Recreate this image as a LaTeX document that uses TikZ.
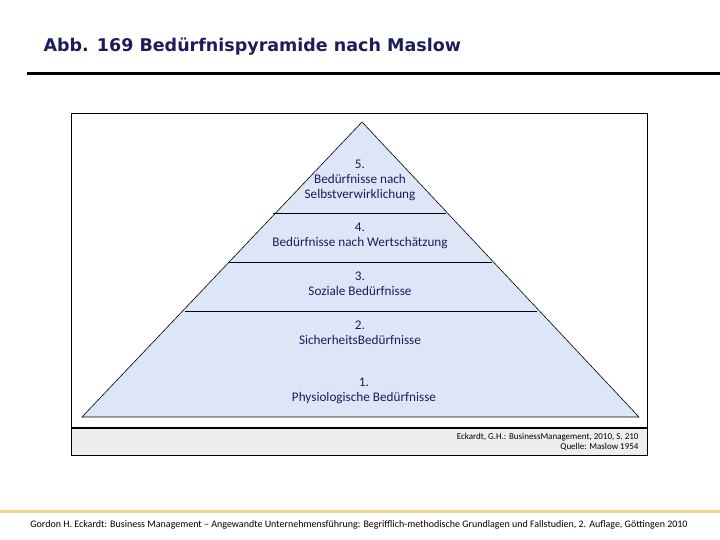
\documentclass[tikz,border=0pt]{standalone}
\usepackage{fontspec}
\setmainfont{Carlito}
\newfontfamily\titlefont{DejaVu Sans}
\begin{document}
\begin{tikzpicture}[x=1pt,y=-1pt,
  lbl/.style={align=center,text=navy,font=\fontsize{13.2}{15}\selectfont},
  divider/.style={draw=black,line width=0.8pt}]
\definecolor{navy}{HTML}{1C1C5C}
\definecolor{pyrfill}{HTML}{DDE6F7}
\definecolor{band}{HTML}{EEEEEE}
\definecolor{gold}{HTML}{F3D48E}
\useasboundingbox (0,0) rectangle (720,540);
\node[anchor=west,text=navy,font=\titlefont\bfseries\fontsize{17.5}{20}\selectfont] (title) at (40,47) {Abb. 169 Bedürfnispyramide nach Maslow};
\draw[line width=3pt] (27,74) -- (720,74);
% frame
\fill[white] (71,113) rectangle (647,455);
\fill[band] (71,428) rectangle (647,455);
\draw[line width=0.8pt] (71,113) rectangle (647,455);
\draw[line width=1.6pt] (71,428) -- (647,428);
% pyramid
\coordinate (apex) at (362,122);
\coordinate (bl) at (82,417);
\coordinate (br) at (639,417);
\filldraw[fill=pyrfill,draw=black,line width=0.6pt] (apex) -- (br) -- (bl) -- cycle;
\draw[divider] (273,213) -- (446,213);
\draw[divider] (229,262) -- (492,262);
\draw[divider] (185,311) -- (537,311);
\node[lbl] (l5) at (360,180) {5.\\Bedürfnisse nach\\Selbstverwirklichung};
\node[lbl] (l4) at (360,236) {4.\\Bedürfnisse nach Wertschätzung};
\node[lbl] (l3) at (360,284) {3.\\Soziale Bedürfnisse};
\node[lbl] (l2) at (360,333) {2.\\SicherheitsBedürfnisse};
\node[lbl] (l1) at (364,391) {1.\\Physiologische Bedürfnisse};
\node[anchor=east,align=right,font=\fontsize{9}{10.5}\selectfont] (src) at (642,442) {Eckardt, G.H.: BusinessManagement, 2010, S. 210\\Quelle: Maslow 1954};
% footer
\draw[gold,line width=3pt] (0,511) -- (720,511);
\node[font=\fontsize{10}{12}\selectfont] (foot) at (359,525) {Gordon H. Eckardt: Business Management – Angewandte Unternehmensführung: Begrifflich-methodische Grundlagen und Fallstudien, 2. Auflage, Göttingen 2010};
\end{tikzpicture}
\end{document}
